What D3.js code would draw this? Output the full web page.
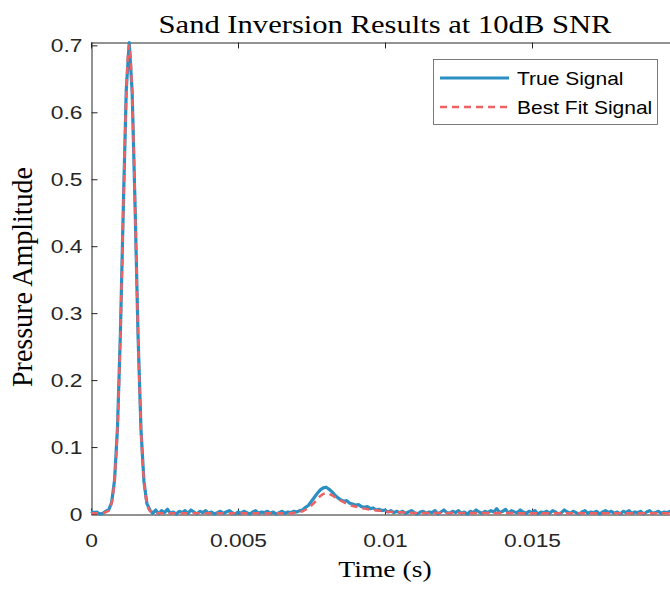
<!DOCTYPE html>
<html>
<head>
<meta charset="utf-8">
<script src="https://cdn.jsdelivr.net/npm/d3@7"></script>
<style>
  body { margin: 0; background: #fff; }
  svg { display: block; }
</style>
</head>
<body>
<svg id="chart" width="670" height="589"></svg>
<script>
// True signal is sampled every 0.1 ms, starting at t = 0
var sampleStep = 0.0001;

// True (noisy) pressure amplitude, one value per sample
var trueAmp = [
    0.004, 0.002, 0.003, 0.000, 0.001, 0.004, 0.006, 0.017, 0.050, 0.128,
    0.270, 0.460, 0.634, 0.704, 0.630, 0.458, 0.267, 0.126, 0.049, 0.016,
    0.006, 0.001, 0.006, 0.000, 0.005, 0.002, 0.007, 0.001, 0.003, 0.000,
    0.004, 0.002, 0.005, 0.001, 0.006, 0.003, 0.000, 0.004, 0.002, 0.005,
    0.001, 0.003, 0.000, 0.002, 0.004, 0.001, 0.003, 0.005, 0.002, 0.000,
    0.003, 0.001, 0.004, 0.002, 0.000, 0.003, 0.005, 0.001, 0.003, 0.002,
    0.004, 0.001, 0.003, 0.000, 0.002, 0.004, 0.001, 0.003, 0.002, 0.004,
    0.003, 0.005, 0.006, 0.010, 0.013, 0.019, 0.025, 0.031, 0.036, 0.039,
    0.040, 0.037, 0.033, 0.028, 0.024, 0.021, 0.019, 0.020, 0.016, 0.015,
    0.013, 0.014, 0.011, 0.010, 0.011, 0.008, 0.009, 0.006, 0.007, 0.005,
    0.006, 0.003, 0.005, 0.002, 0.004, 0.002, 0.004, 0.001, 0.003, 0.005,
    0.002, 0.000, 0.003, 0.004, 0.001, 0.003, 0.002, 0.005, 0.000, 0.003,
    0.006, 0.002, 0.001, 0.004, 0.002, 0.005, 0.001, 0.003, 0.000, 0.004,
    0.002, 0.006, 0.003, 0.001, 0.004, 0.002, 0.005, 0.003, 0.008, 0.002,
    0.004, 0.007, 0.001, 0.005, 0.003, 0.002, 0.006, 0.003, 0.001, 0.004,
    0.002, 0.005, 0.000, 0.003, 0.002, 0.004, 0.001, 0.005, 0.003, 0.000,
    0.002, 0.006, 0.003, 0.001, 0.004, 0.002, 0.000, 0.003, 0.005, 0.001,
    0.003, 0.002, 0.004, 0.000, 0.003, 0.005, 0.002, 0.004, 0.001, 0.003,
    0.000, 0.004, 0.002, 0.005, 0.001, 0.003, 0.002, 0.004, 0.000, 0.003,
    0.005, 0.001, 0.002, 0.004, 0.001, 0.003, 0.002, 0.004, 0.001, 0.003,
    0.002
];

// Best fit signal (smooth), time in seconds
var fitTime = [
    0, 0.0004, 0.0006, 0.00065, 0.0007, 0.00075, 0.0008, 0.00085, 0.0009, 0.00095,
    0.001, 0.00105, 0.0011, 0.00115, 0.0012, 0.00125, 0.0013, 0.00135, 0.0014, 0.00145,
    0.0015, 0.00155, 0.0016, 0.00165, 0.0017, 0.00175, 0.0018, 0.00185, 0.0019, 0.00195,
    0.002, 0.0022, 0.0068, 0.007, 0.0072, 0.0074, 0.0076, 0.0077, 0.0078, 0.0079,
    0.008, 0.0081, 0.0082, 0.0083, 0.0085, 0.0087, 0.0089, 0.0091, 0.0093, 0.0095,
    0.0098, 0.0101, 0.0105, 0.011, 0.02
];
var fitAmp = [
    0.001, 0.001, 0.0047, 0.0086, 0.0158, 0.028, 0.049, 0.081, 0.127, 0.189,
    0.268, 0.359, 0.457, 0.551, 0.630, 0.682, 0.701, 0.682, 0.630, 0.551,
    0.457, 0.359, 0.268, 0.189, 0.127, 0.081, 0.049, 0.028, 0.0158, 0.0086,
    0.0047, 0.001, 0.001, 0.002, 0.004, 0.009, 0.017, 0.022, 0.027, 0.030,
    0.031, 0.030, 0.028, 0.025, 0.020, 0.015, 0.012, 0.010, 0.008, 0.0065,
    0.005, 0.0035, 0.0025, 0.0015, 0.001
];

var xTicks = [0, 0.005, 0.01, 0.015];
var yTicks = [0, 0.1, 0.2, 0.3, 0.4, 0.5, 0.6, 0.7];
var legendLabels = ["True Signal", "Best Fit Signal"];

var titleText = "Sand Inversion Results at 10dB SNR";
var xLabel = "Time (s)";
var yLabel = "Pressure Amplitude";

// Colours / styles
var axisColor = "#262626";
var trueColor = "#2b8fc4";
var fitColor = "#ef6264";
var sansFont = "'Liberation Sans', Arial, sans-serif";
var serifFont = "'Liberation Serif', 'Times New Roman', serif";
var stretch = 1.2;   // the reference text is a little wide

var svg = d3.select("#chart");

// Plot box (the right edge lies outside the picture)
var plotLeft = 91, plotRight = 679, plotTop = 42, plotBottom = 514;

var x = d3.scaleLinear().domain([0, 0.02]).range([plotLeft, plotRight]);
var y = d3.scaleLinear().domain([0, 0.705]).range([plotBottom, plotTop]);

// Data as [t, amp]
var trueData = trueAmp.map(function (v, i) { return [i * sampleStep, v]; });
var fitData = fitTime.map(function (t, i) { return [t, fitAmp[i]]; });

var line = d3.line()
    .x(function (d) { return x(d[0]); })
    .y(function (d) { return y(d[1]); });

// Axes
function fmt(d) { return d === 0 ? "0" : String(+d.toFixed(3)); }

function styleAxis(g) {
    g.selectAll("path, line").attr("stroke", axisColor).attr("stroke-width", 1);
    g.selectAll("text")
        .attr("fill", axisColor)
        .style("font-family", sansFont)
        .style("font-size", "19px");
}

var yAxis = svg.append("g")
    .attr("transform", "translate(" + (plotLeft + 0.5) + ",0)")
    .call(d3.axisLeft(y).tickValues(yTicks).tickSizeInner(-6).tickSizeOuter(0)
        .tickPadding(9).tickFormat(fmt))
    .call(styleAxis);
yAxis.selectAll(".tick text")
    .attr("x", -9 / stretch)
    .attr("transform", "scale(" + stretch + ",1)");

var xAxis = svg.append("g")
    .attr("transform", "translate(0," + (plotBottom + 0.5) + ")")
    .call(d3.axisBottom(x).tickValues(xTicks).tickSizeInner(-6).tickSizeOuter(0)
        .tickPadding(0).tickFormat(fmt))
    .call(styleAxis);
xAxis.selectAll(".tick text")
    .attr("y", 33)
    .attr("dy", null)
    .attr("transform", "scale(" + stretch + ",1)")
    .attr("x", 0);

svg.append("g")
    .attr("transform", "translate(0," + (plotTop + 0.5) + ")")
    .call(d3.axisTop(x).tickValues(xTicks).tickSizeInner(-6).tickSizeOuter(0).tickFormat(""))
    .call(styleAxis);

// Signals
svg.append("path")
    .datum(trueData)
    .attr("d", line)
    .attr("fill", "none")
    .attr("stroke", trueColor)
    .attr("stroke-width", 3.2)
    .attr("stroke-linejoin", "round");

svg.append("path")
    .datum(fitData)
    .attr("d", line)
    .attr("fill", "none")
    .attr("stroke", fitColor)
    .attr("stroke-width", 2.5)
    .attr("stroke-dasharray", "7,5");

// Title and labels
svg.append("text")
    .attr("transform", "translate(" + (plotLeft + plotRight) / 2 + ",33) scale(" + stretch + ",1)")
    .attr("text-anchor", "middle")
    .style("font-family", serifFont)
    .style("font-size", "25.5px")
    .attr("fill", "#000")
    .text(titleText);

svg.append("text")
    .attr("transform", "translate(" + (plotLeft + plotRight) / 2 + ",577) scale(" + stretch + ",1)")
    .attr("text-anchor", "middle")
    .style("font-family", serifFont)
    .style("font-size", "23px")
    .attr("fill", "#000")
    .text(xLabel);

svg.append("text")
    .attr("transform", "translate(32,277) rotate(-90) scale(1,1.05)")
    .attr("text-anchor", "middle")
    .style("font-family", serifFont)
    .style("font-size", "28px")
    .attr("fill", "#000")
    .text(yLabel);

// Legend
var legend = svg.append("g").attr("transform", "translate(433,59)");
legend.append("rect")
    .attr("x", 0.5).attr("y", 0.5)
    .attr("width", 224).attr("height", 65)
    .attr("fill", "#fff")
    .attr("stroke", "#5a5a5a")
    .attr("stroke-width", 0.8);

var entries = legend.selectAll(".entry")
    .data(legendLabels)
    .enter().append("g")
    .attr("class", "entry")
    .attr("transform", function (d, i) { return "translate(0," + (19 + i * 29) + ")"; });

entries.append("line")
    .attr("x1", 7).attr("x2", 76)
    .attr("stroke", function (d, i) { return i === 0 ? trueColor : fitColor; })
    .attr("stroke-width", function (d, i) { return i === 0 ? 3 : 2.5; })
    .attr("stroke-dasharray", function (d, i) { return i === 0 ? null : "7,5"; });

entries.append("text")
    .attr("transform", "translate(84,6.5) scale(" + stretch + ",1)")
    .style("font-family", sansFont)
    .style("font-size", "17.5px")
    .attr("fill", "#000")
    .text(function (d) { return d; });
</script>
</body>
</html>
